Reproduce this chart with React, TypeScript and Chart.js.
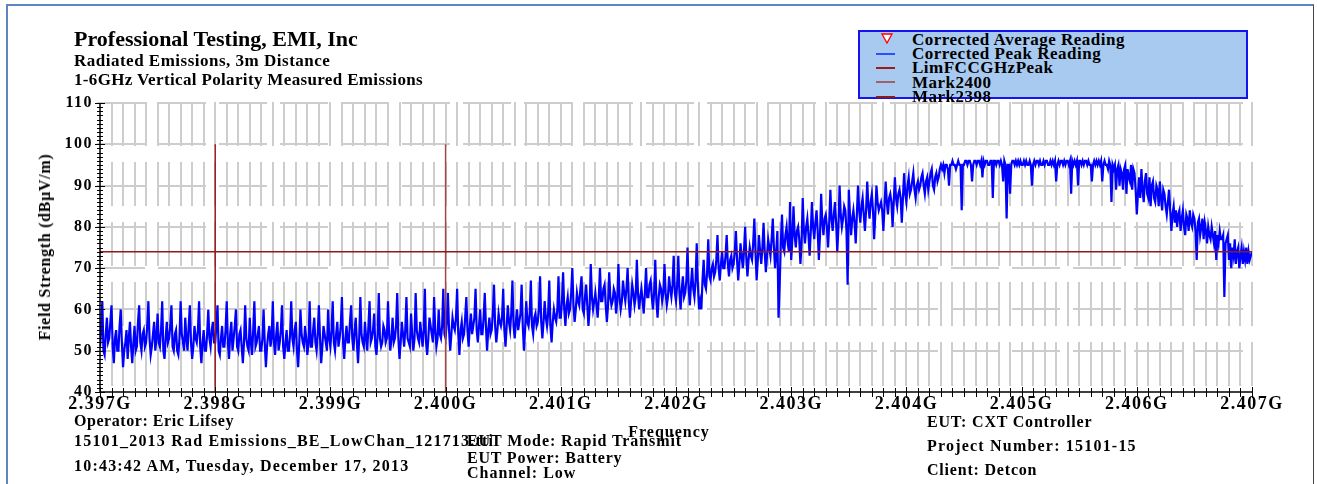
import React, { useEffect, useRef } from 'react';
import { Chart, registerables } from 'chart.js';

Chart.register(...registerables);

// ---------- data ----------
const FREQ_START = 2.397; // GHz
const FREQ_STEP = 0.00001; // GHz sweep step
const xTickValues = [2.397, 2.398, 2.399, 2.4, 2.401, 2.402, 2.403, 2.404, 2.405, 2.406, 2.407];
const xMinorStep = 0.0001;
const yTickValues = [40, 50, 60, 70, 80, 90, 100, 110];
const limitLevel = 74;
const limitSpan = [2.397, 2.407];
const mark2398Freq = 2.398;
const mark2400Freq = 2.4;
const markSpan = [40, 100];

const peak2397 = [
  51, 55, 62, 50, 49, 54, 58, 52, 53, 57, 61, 51, 47, 53, 55, 50, 50, 56, 60, 52,
  46, 50, 52, 55, 48, 53, 57, 51, 47, 52, 56, 50, 51, 57, 61, 52, 50, 54, 55, 51,
  52, 56, 62, 53, 49, 51, 54, 57, 50, 53, 59, 52, 51, 55, 62, 50, 48, 53, 57, 52,
  53, 56, 61, 51, 50, 54, 55, 50, 49, 53, 62, 54, 52, 50, 58, 53, 50, 56, 61, 52,
  48, 51, 56, 53, 52, 55, 62, 51, 47, 52, 55, 50, 50, 54, 60, 53, 51, 55, 57, 52,
];
const peak2398 = [
  52, 56, 61, 50, 49, 53, 56, 51, 51, 55, 62, 52, 48, 54, 57, 50, 53, 56, 60, 51,
  50, 54, 55, 51, 47, 52, 61, 53, 51, 50, 58, 52, 49, 55, 62, 51, 52, 54, 56, 50,
  50, 53, 60, 52, 46, 51, 54, 56, 51, 53, 62, 52, 49, 54, 57, 50, 52, 55, 61, 51,
  48, 52, 55, 50, 50, 54, 62, 53, 51, 55, 57, 50, 46, 52, 60, 54, 52, 51, 56, 53,
  49, 52, 62, 51, 51, 55, 58, 52, 50, 54, 61, 53, 47, 51, 56, 54, 52, 50, 60, 53,
];
const peak2399 = [
  51, 55, 62, 52, 50, 54, 57, 51, 53, 56, 63, 52, 48, 53, 56, 52, 52, 57, 61, 53,
  50, 55, 58, 52, 47, 53, 63, 54, 52, 51, 57, 53, 50, 56, 62, 52, 53, 55, 59, 51,
  49, 54, 64, 53, 51, 52, 56, 55, 52, 53, 62, 54, 50, 53, 58, 52, 53, 56, 64, 53,
  48, 52, 57, 54, 51, 55, 63, 53, 52, 51, 59, 54, 50, 53, 64, 55, 53, 52, 57, 54,
  51, 55, 65, 52, 49, 53, 58, 56, 54, 52, 63, 55, 51, 53, 60, 54, 53, 56, 65, 54,
];
const peak2400 = [
  53, 57, 64, 55, 50, 54, 58, 56, 55, 58, 65, 54, 49, 55, 57, 53, 54, 58, 63, 55,
  51, 56, 59, 54, 56, 58, 65, 55, 52, 56, 60, 54, 54, 58, 64, 56, 50, 55, 58, 54,
  55, 59, 66, 56, 52, 55, 59, 57, 56, 58, 65, 55, 51, 56, 61, 57, 55, 59, 67, 56,
  53, 57, 60, 55, 57, 59, 66, 56, 50, 55, 62, 57, 56, 59, 67, 56, 54, 58, 59, 56,
  57, 60, 68, 57, 53, 57, 62, 58, 56, 59, 67, 56, 52, 57, 60, 58, 57, 60, 68, 58,
];
const peak2401 = [
  58, 62, 69, 60, 56, 61, 63, 59, 60, 64, 70, 61, 57, 60, 64, 62, 61, 65, 68, 60,
  59, 63, 66, 61, 56, 60, 71, 63, 60, 62, 64, 61, 58, 63, 70, 62, 62, 65, 66, 61,
  57, 61, 69, 63, 61, 62, 65, 64, 59, 62, 71, 63, 60, 62, 67, 64, 62, 65, 70, 62,
  58, 62, 66, 64, 61, 63, 72, 64, 60, 63, 65, 62, 59, 64, 70, 63, 63, 66, 67, 63,
  60, 64, 72, 62, 58, 63, 66, 65, 62, 64, 71, 64, 61, 63, 68, 65, 63, 66, 73, 64,
];
const peak2402 = [
  62, 66, 73, 64, 60, 65, 68, 63, 64, 67, 75, 65, 61, 66, 70, 65, 63, 67, 76, 66,
  60, 62, 60, 67, 72, 66, 65, 69, 77, 68, 67, 70, 71, 68, 69, 72, 78, 70, 67, 71,
  74, 70, 70, 73, 78, 71, 68, 72, 73, 70, 71, 74, 79, 72, 67, 71, 76, 73, 70, 74,
  80, 73, 68, 72, 75, 73, 72, 76, 82, 74, 67, 72, 78, 74, 71, 75, 81, 74, 69, 73,
  77, 75, 73, 77, 82, 75, 70, 74, 79, 58, 66, 76, 83, 75, 74, 78, 80, 76, 74, 86,
];
const peak2403 = [
  72, 77, 85, 78, 75, 79, 80, 77, 71, 76, 87, 79, 76, 80, 82, 78, 73, 79, 86, 80,
  77, 81, 84, 79, 72, 78, 88, 81, 78, 82, 83, 80, 75, 81, 89, 82, 79, 83, 86, 81,
  74, 80, 90, 83, 80, 82, 85, 84, 79, 66, 89, 83, 78, 82, 84, 81, 76, 83, 90, 84,
  81, 85, 87, 83, 79, 84, 91, 85, 82, 86, 88, 84, 77, 83, 90, 86, 84, 85, 86, 84,
  79, 85, 91, 86, 83, 87, 88, 86, 80, 86, 92, 87, 85, 88, 89, 87, 81, 87, 93, 88,
];
const peak2404 = [
  86, 90, 92, 88, 89, 91, 93, 89, 87, 90, 91, 89, 90, 92, 93, 90, 88, 91, 92, 89,
  91, 93, 94, 90, 89, 92, 93, 91, 92, 94, 95, 94, 95, 93, 95, 95, 94, 90, 95, 95,
  96, 95, 95, 94, 95, 96, 95, 95, 84, 95, 95, 96, 96, 95, 96, 96, 95, 91, 95, 96,
  96, 95, 96, 96, 95, 96, 92, 96, 95, 96, 96, 95, 95, 96, 96, 87, 96, 96, 95, 96,
  96, 95, 96, 95, 91, 96, 95, 82, 95, 95, 88, 95, 96, 96, 95, 96, 95, 96, 95, 96,
];
const peak2405 = [
  95, 95, 96, 95, 96, 95, 95, 96, 95, 90, 95, 96, 95, 96, 96, 95, 96, 95, 95, 96,
  95, 96, 96, 95, 95, 96, 95, 96, 95, 96, 91, 95, 96, 95, 96, 96, 95, 96, 95, 96,
  96, 95, 96, 88, 96, 95, 96, 95, 96, 90, 96, 96, 95, 96, 95, 96, 96, 95, 96, 95,
  95, 91, 95, 96, 95, 96, 95, 96, 95, 96, 91, 95, 96, 95, 95, 94, 96, 95, 86, 95,
  94, 95, 89, 94, 95, 90, 94, 93, 89, 94, 95, 88, 94, 92, 91, 95, 89, 94, 93, 89,
];
const peak2406 = [
  83, 88, 92, 87, 94, 89, 86, 91, 93, 88, 87, 92, 85, 90, 91, 87, 86, 90, 89, 85,
  91, 87, 84, 89, 88, 85, 83, 86, 89, 84, 79, 83, 85, 81, 84, 80, 83, 84, 79, 82,
  84, 80, 78, 83, 82, 79, 84, 81, 80, 83, 82, 79, 72, 81, 82, 78, 80, 82, 77, 81,
  79, 76, 80, 78, 77, 80, 78, 76, 79, 72, 78, 76, 79, 77, 77, 78, 63, 76, 77, 78,
  72, 76, 70, 75, 73, 77, 71, 74, 75, 70, 73, 75, 71, 74, 72, 75, 71, 74, 72, 73,
  74,
];

const peakReadings = [
  ...peak2397, ...peak2398, ...peak2399, ...peak2400, ...peak2401,
  ...peak2402, ...peak2403, ...peak2404, ...peak2405, ...peak2406,
];

const seriesLabels = [
  'Corrected Average Reading',
  'Corrected Peak Reading',
  'LimFCCGHzPeak',
  'Mark2400',
  'Mark2398',
];
const seriesColors = ['#ff0000', '#0000ff', '#8b1a1a', '#a34545', '#9a1818'];
const legendColors = ['#ff0000', '#2f4fff', '#9b1c1c', '#a0606a', '#8b1a1a'];

// ---------- styles ----------
const SERIF = '"Liberation Serif", "Times New Roman", serif';

const gridPlugin = {
  id: 'customGrid',
  beforeDatasetsDraw(chart: any) {
    const { ctx, chartArea: a, scales } = chart;
    const x = scales.x;
    const y = scales.y;
    ctx.save();
    ctx.strokeStyle = '#cdcdcd';
    ctx.lineWidth = 2;
    ctx.setLineDash([44, 16]);
    const n = Math.round((xTickValues[xTickValues.length - 1] - xTickValues[0]) / xMinorStep);
    for (let i = 1; i <= n; i++) {
      const px = Math.round(x.getPixelForValue(xTickValues[0] + i * xMinorStep));
      ctx.beginPath();
      ctx.moveTo(px, a.top - 1);
      ctx.lineTo(px, a.bottom);
      ctx.stroke();
    }
    ctx.setLineDash([48, 13]);
    yTickValues.forEach((v) => {
      if (v === yTickValues[0]) return;
      const py = Math.round(y.getPixelForValue(v));
      ctx.beginPath();
      ctx.moveTo(a.left - 3, py);
      ctx.lineTo(a.right, py);
      ctx.stroke();
    });
    ctx.restore();
  },
  afterDatasetsDraw(chart: any) {
    const { ctx, chartArea: a, scales } = chart;
    const x = scales.x;
    const y = scales.y;
    ctx.save();
    ctx.strokeStyle = '#000';
    ctx.lineWidth = 1.5;
    ctx.setLineDash([]);
    ctx.beginPath();
    ctx.moveTo(a.left, a.top);
    ctx.lineTo(a.left, a.bottom);
    ctx.lineTo(a.right, a.bottom);
    ctx.stroke();
    ctx.lineWidth = 1;
    const y0 = yTickValues[0];
    const y1 = yTickValues[yTickValues.length - 1];
    for (let v = y0; v <= y1; v++) {
      const py = Math.round(y.getPixelForValue(v)) + 0.5;
      const major = (v - y0) % 10 === 0;
      ctx.beginPath();
      ctx.moveTo(a.left - (major ? 5 : 3), py);
      ctx.lineTo(a.left + (major ? 5 : 3), py);
      ctx.stroke();
    }
    const n = Math.round((xTickValues[xTickValues.length - 1] - xTickValues[0]) / xMinorStep);
    for (let i = 0; i <= n; i++) {
      const px = Math.round(x.getPixelForValue(xTickValues[0] + i * xMinorStep)) + 0.5;
      const major = i % 10 === 0;
      ctx.beginPath();
      ctx.moveTo(px, a.bottom - (major ? 5 : 4));
      ctx.lineTo(px, a.bottom + (major ? 6 : 5));
      ctx.stroke();
    }
    ctx.restore();
  },
  beforeDraw(chart: any) {
    (chart.ctx as any).letterSpacing = '1.5px';
  },
};

function Txt(props: { x: number; y: number; size: number; ls?: number; center?: boolean; children: React.ReactNode }) {
  const { x, y, size, ls = 0, center = false, children } = props;
  return (
    <div
      style={{
        position: 'absolute',
        left: x,
        top: y - size / 2,
        fontFamily: SERIF,
        fontWeight: 'bold',
        fontSize: size,
        lineHeight: `${size}px`,
        letterSpacing: `${ls}px`,
        whiteSpace: 'nowrap',
        color: '#000',
        transform: center ? 'translateX(-50%)' : undefined,
        pointerEvents: 'none',
      }}
    >
      {children}
    </div>
  );
}

export default function App() {
  const ref = useRef<HTMLCanvasElement>(null);

  useEffect(() => {
    const canvas = ref.current;
    if (!canvas) return;
    const peakData = peakReadings.map((v, i) => ({ x: FREQ_START + i * FREQ_STEP, y: v }));
    const chart = new Chart(canvas, {
      type: 'line',
      data: {
        datasets: [
          {
            label: seriesLabels[0],
            data: [],
            borderColor: seriesColors[0],
            pointStyle: 'triangle',
            rotation: 180,
            order: 0,
          },
          {
            label: seriesLabels[1],
            data: peakData,
            borderColor: seriesColors[1],
            borderWidth: 2.2,
            pointRadius: 0,
            tension: 0,
            order: 5,
          },
          {
            label: seriesLabels[2],
            data: limitSpan.map((f) => ({ x: f, y: limitLevel })),
            borderColor: seriesColors[2],
            borderWidth: 1.5,
            pointRadius: 0,
            order: 1,
          },
          {
            label: seriesLabels[3],
            data: markSpan.map((v) => ({ x: mark2400Freq, y: v })),
            borderColor: seriesColors[3],
            borderWidth: 1.5,
            pointRadius: 0,
            order: 2,
          },
          {
            label: seriesLabels[4],
            data: markSpan.map((v) => ({ x: mark2398Freq, y: v })),
            borderColor: seriesColors[4],
            borderWidth: 1.5,
            pointRadius: 0,
            order: 3,
          },
        ],
      },
      options: {
        animation: false,
        responsive: false,
        devicePixelRatio: 1,
        layout: { padding: { top: 103, left: 0, right: 65, bottom: 0 } },
        plugins: { legend: { display: false }, tooltip: { enabled: false } },
        scales: {
          x: {
            type: 'linear',
            min: xTickValues[0],
            max: xTickValues[xTickValues.length - 1],
            grid: { display: false, drawTicks: false },
            border: { display: false },
            afterBuildTicks: (s: any) => {
              s.ticks = xTickValues.map((v) => ({ value: v }));
            },
            afterFit: (s: any) => {
              s.height = 92;
            },
            ticks: {
              autoSkip: false,
              maxRotation: 0,
              padding: 2,
              color: '#000',
              font: { family: SERIF, size: 18, weight: 'bold' },
              callback: (v: any) => Number(v).toFixed(3) + 'G',
            },
          },
          y: {
            type: 'linear',
            min: yTickValues[0],
            max: yTickValues[yTickValues.length - 1],
            grid: { display: false, drawTicks: false },
            border: { display: false },
            afterBuildTicks: (s: any) => {
              s.ticks = yTickValues.map((v) => ({ value: v }));
            },
            afterFit: (s: any) => {
              s.width = 100;
            },
            ticks: {
              padding: 7,
              color: '#000',
              font: { family: SERIF, size: 16, weight: 'bold' },
            },
          },
        },
      },
      plugins: [gridPlugin],
    } as any);
    return () => chart.destroy();
  }, []);

  const legendTop = 39.3;
  const legendPitch = 14.3;

  return (
    <div style={{ position: 'relative', width: 1317, height: 484, overflow: 'hidden', background: '#fff' }}>
      <style>{'body{margin:0}'}</style>
      <div
        style={{
          position: 'absolute',
          left: 6,
          top: 4,
          width: 1305,
          height: 520,
          borderLeft: '2px solid #5f84bf',
          borderTop: '2px solid #5f84bf',
          borderRight: '1px solid #444',
        }}
      />
      <canvas ref={ref} width={1317} height={484} style={{ position: 'absolute', left: 0, top: 0 }} />

      <Txt x={74} y={39} size={22}>Professional Testing, EMI, Inc</Txt>
      <Txt x={74} y={60} size={17} ls={0.5}>Radiated Emissions, 3m Distance</Txt>
      <Txt x={74} y={79} size={17} ls={0.35}>1-6GHz Vertical Polarity Measured Emissions</Txt>

      <div
        style={{
          position: 'absolute',
          left: 858,
          top: 30,
          width: 390,
          height: 69,
          boxSizing: 'border-box',
          border: '2px solid #1414f0',
          background: '#a8caf0',
        }}
      />
      {seriesLabels.map((label, i) => {
        const cy = legendTop + legendPitch * i;
        return (
          <React.Fragment key={label}>
            {i === 0 ? (
              <svg style={{ position: 'absolute', left: 881, top: cy - 6 }} width={12} height={11}>
                <polygon points="1,1 11,1 6,10" fill="#ffffff" stroke={legendColors[0]} strokeWidth={1.3} />
              </svg>
            ) : (
              <div
                style={{
                  position: 'absolute',
                  left: 876,
                  top: Math.round(cy) - 1,
                  width: 19,
                  height: 1.5,
                  background: legendColors[i],
                }}
              />
            )}
            <Txt x={912} y={cy} size={17} ls={0.5}>{label}</Txt>
          </React.Fragment>
        );
      })}

      <div
        style={{
          position: 'absolute',
          left: 45,
          top: 247,
          transform: 'translate(-50%, -50%) rotate(-90deg)',
          fontFamily: SERIF,
          fontWeight: 'bold',
          fontSize: 16,
          letterSpacing: '0.7px',
          whiteSpace: 'nowrap',
          lineHeight: '16px',
        }}
      >
        Field Strength (dBµV/m)
      </div>
      <Txt x={669} y={432} size={16} ls={1} center>Frequency</Txt>

      <Txt x={74} y={421} size={16} ls={0.55}>Operator: Eric Lifsey</Txt>
      <Txt x={74} y={441} size={16} ls={1.2}>15101_2013 Rad Emissions_BE_LowChan_121713.tti</Txt>
      <Txt x={74} y={466} size={16} ls={1.2}>10:43:42 AM, Tuesday, December 17, 2013</Txt>

      <Txt x={467} y={441} size={16} ls={0.9}>EUT Mode: Rapid Transmit</Txt>
      <Txt x={467} y={458} size={16} ls={0.8}>EUT Power: Battery</Txt>
      <Txt x={467} y={473} size={16} ls={1}>Channel: Low</Txt>

      <Txt x={927} y={422} size={16} ls={0.8}>EUT: CXT Controller</Txt>
      <Txt x={927} y={446} size={16} ls={1.2}>Project Number: 15101-15</Txt>
      <Txt x={927} y={470} size={16} ls={0.8}>Client: Detcon</Txt>
    </div>
  );
}
